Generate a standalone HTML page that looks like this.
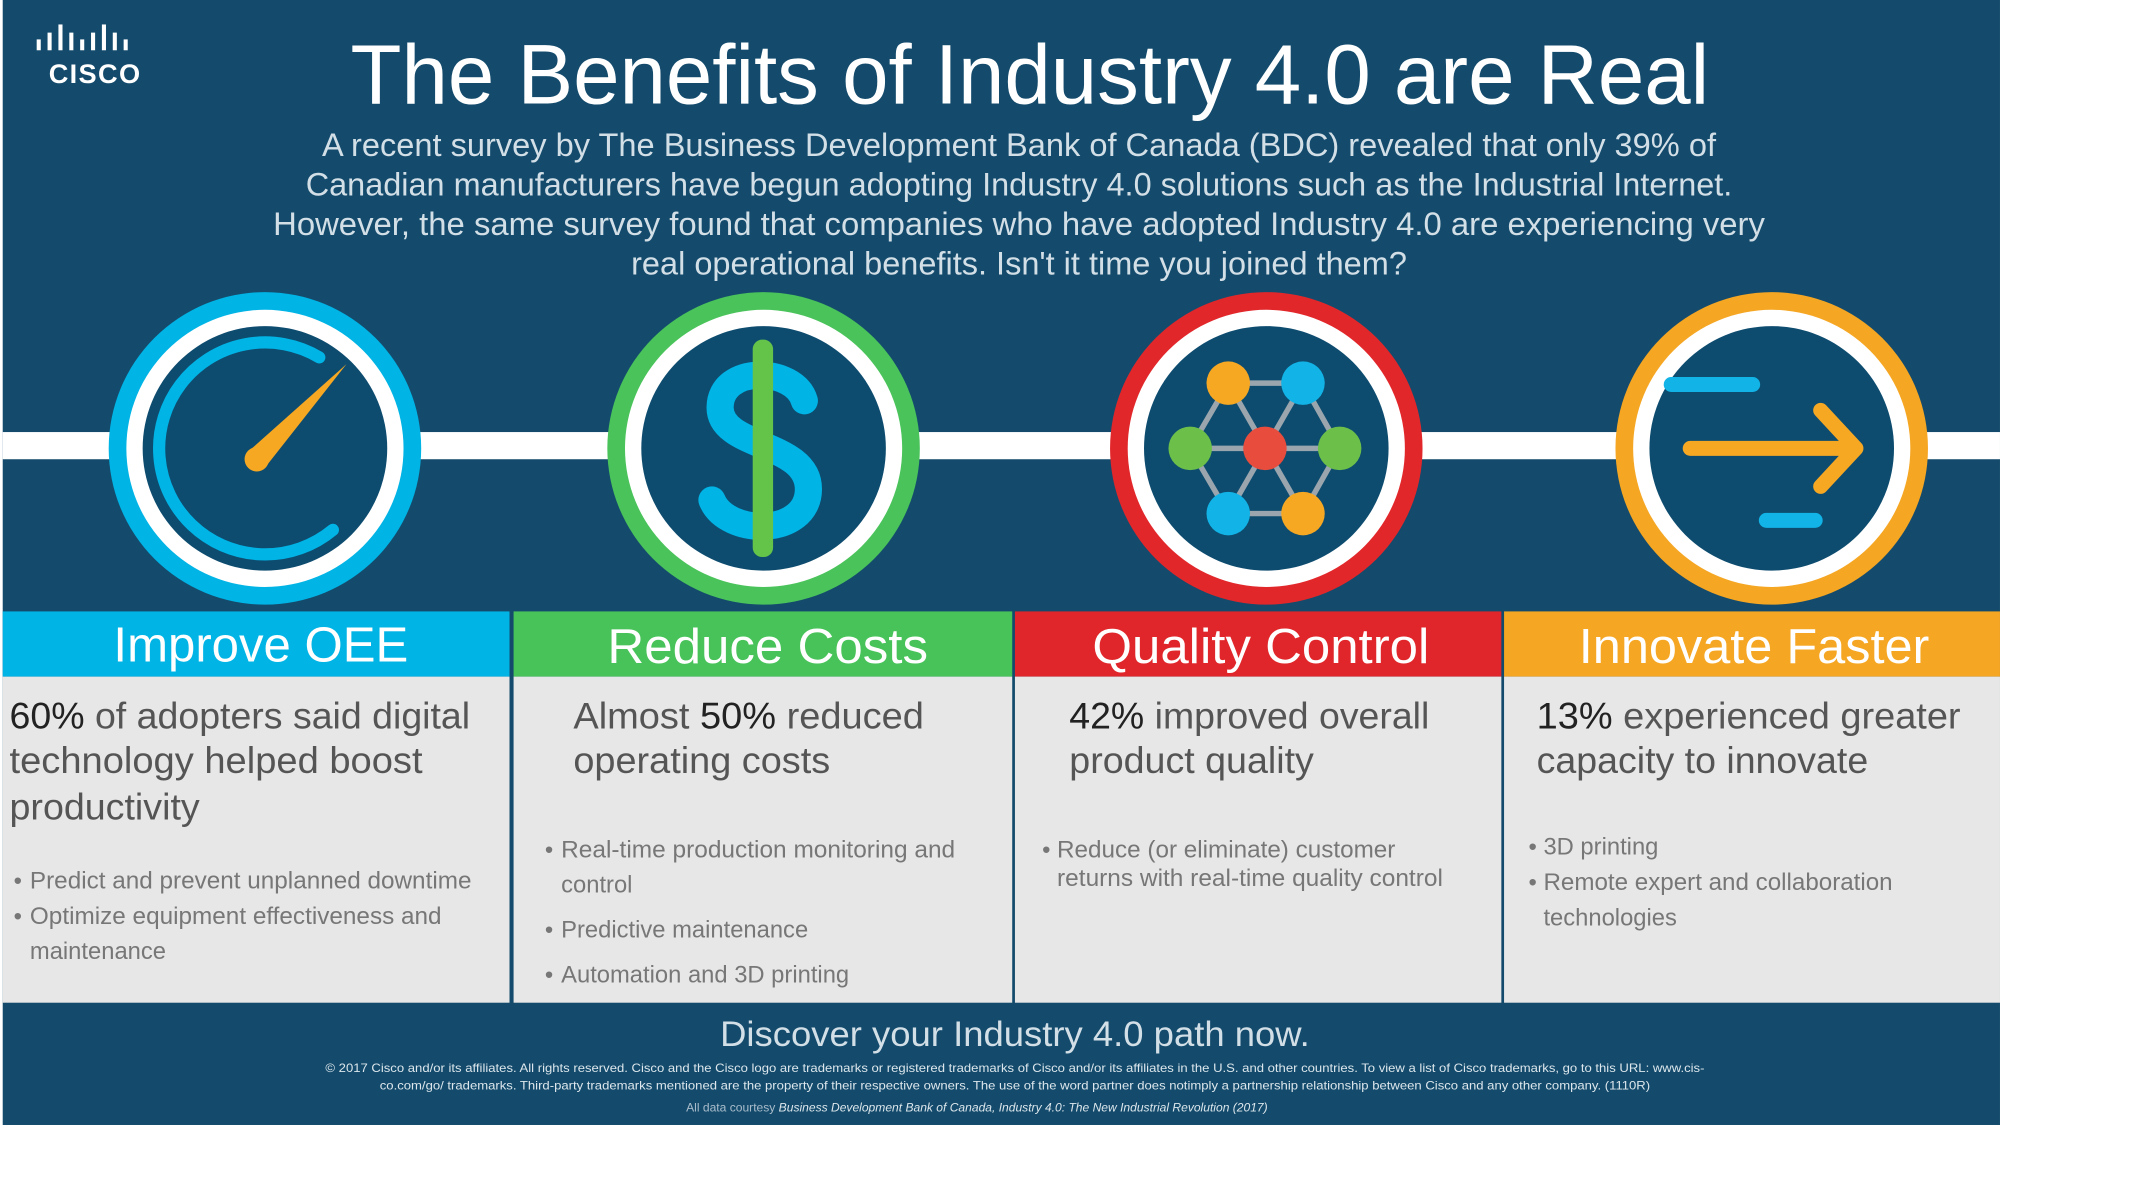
<!DOCTYPE html>
<html><head><meta charset="utf-8"><style>
html,body{margin:0;padding:0;background:#fff;width:2130px;height:1197px;overflow:hidden}
svg{display:block}
text{font-family:"Liberation Sans",sans-serif}
</style></head><body>
<svg width="2130" height="1197" viewBox="0 0 1567 881" preserveAspectRatio="xMinYMin meet">
<rect x="0" y="0" width="1567" height="881" fill="#fff"/>
<rect x="2" y="0" width="1470" height="828" fill="#144b6c"/>
<g fill="#fff">
<rect x="27" y="29" width="3" height="8"/><rect x="35" y="24" width="3" height="13"/><rect x="43" y="18" width="3" height="19"/><rect x="51" y="24" width="3" height="13"/><rect x="59" y="29" width="3" height="8"/><rect x="67" y="24" width="3" height="13"/><rect x="75" y="18" width="3" height="19"/><rect x="83" y="24" width="3" height="13"/><rect x="91" y="29" width="3" height="8"/>
<text x="70" y="61" font-size="20" font-weight="bold" text-anchor="middle" letter-spacing="1">CISCO</text>
</g>
<text x="758" y="76" font-size="62" fill="#fff" text-anchor="middle" textLength="1000" lengthAdjust="spacingAndGlyphs">The Benefits of Industry 4.0 are Real</text>
<g fill="#d3dfe7" font-size="24" text-anchor="middle">
<text x="750" y="115" textLength="1026" lengthAdjust="spacingAndGlyphs">A recent survey by The Business Development Bank of Canada (BDC) revealed that only 39% of</text>
<text x="750" y="144" textLength="1050" lengthAdjust="spacingAndGlyphs">Canadian manufacturers have begun adopting Industry 4.0 solutions such as the Industrial Internet.</text>
<text x="750" y="173" textLength="1098" lengthAdjust="spacingAndGlyphs">However, the same survey found that companies who have adopted Industry 4.0 are experiencing very</text>
<text x="750" y="202" textLength="571" lengthAdjust="spacingAndGlyphs">real operational benefits. Isn't it time you joined them?</text>
</g>
<rect x="2" y="318" width="1470" height="20" fill="#fff"/>
<g>
<circle cx="195" cy="330" r="115" fill="#00b4e6"/><circle cx="195" cy="330" r="102" fill="#fff"/><circle cx="195" cy="330" r="90" fill="#0d4c6f"/>
<path d="M 235 263 A 78 78 0 1 0 245 390" fill="none" stroke="#00b4e6" stroke-width="9" stroke-linecap="round"/>
<path d="M 182 333 L 255 268 L 196 343 Z" fill="#f7a823"/><circle cx="189" cy="338" r="9" fill="#f7a823"/>
</g>
<g>
<circle cx="562" cy="330" r="115" fill="#49c35a"/><circle cx="562" cy="330" r="102" fill="#fff"/><circle cx="562" cy="330" r="90" fill="#0d4c6f"/>
<path d="M 592 295 C 585 270 530 268 530 300 C 530 330 595 325 595 360 C 595 395 535 395 524 368" fill="none" stroke="#00b4e6" stroke-width="20" stroke-linecap="round"/>
<rect x="554" y="250" width="15" height="160" rx="7" fill="#64c449"/>
</g>
<g>
<circle cx="932" cy="330" r="115" fill="#e2272b"/><circle cx="932" cy="330" r="102" fill="#fff"/><circle cx="932" cy="330" r="90" fill="#0d4c6f"/>
<g stroke="#9aa5ad" stroke-width="4" fill="none">
<polygon points="904,282 959,282 986,330 959,378 904,378 876,330"/>
<line x1="876" y1="330" x2="986" y2="330"/><line x1="904" y1="282" x2="959" y2="378"/><line x1="959" y1="282" x2="904" y2="378"/>
</g>
<circle cx="904" cy="282" r="16" fill="#f7a823"/><circle cx="959" cy="282" r="16" fill="#12b3e6"/>
<circle cx="876" cy="330" r="16" fill="#6cc04a"/><circle cx="931" cy="330" r="16" fill="#e84c3d"/><circle cx="986" cy="330" r="16" fill="#6cc04a"/>
<circle cx="904" cy="378" r="16" fill="#12b3e6"/><circle cx="959" cy="378" r="16" fill="#f7a823"/>
</g>
<g>
<circle cx="1304" cy="330" r="115" fill="#f5a623"/><circle cx="1304" cy="330" r="102" fill="#fff"/><circle cx="1304" cy="330" r="90" fill="#0d4c6f"/>
<line x1="1230" y1="283" x2="1290" y2="283" stroke="#12b3e6" stroke-width="11" stroke-linecap="round"/>
<line x1="1300" y1="383" x2="1336" y2="383" stroke="#12b3e6" stroke-width="11" stroke-linecap="round"/>
<line x1="1244" y1="330" x2="1362" y2="330" stroke="#f7a823" stroke-width="11" stroke-linecap="round"/>
<polyline points="1340,302 1366,330 1340,358" fill="none" stroke="#f7a823" stroke-width="11" stroke-linecap="round" stroke-linejoin="round"/>
</g>
<rect x="2" y="450" width="373" height="48" fill="#00b4e6"/>
<rect x="378" y="450" width="367" height="48" fill="#48c35a"/>
<rect x="747" y="450" width="358" height="48" fill="#e0262a"/>
<rect x="1107" y="450" width="365" height="48" fill="#f5a623"/>
<g fill="#fff" font-size="36" text-anchor="middle">
<text x="192" y="487" textLength="217" lengthAdjust="spacingAndGlyphs">Improve OEE</text>
<text x="565" y="488" textLength="236" lengthAdjust="spacingAndGlyphs">Reduce Costs</text>
<text x="928" y="488" textLength="248" lengthAdjust="spacingAndGlyphs">Quality Control</text>
<text x="1291" y="488" textLength="258" lengthAdjust="spacingAndGlyphs">Innovate Faster</text>
</g>
<rect x="2" y="498" width="373" height="240" fill="#e7e7e7"/>
<rect x="378" y="498" width="367" height="240" fill="#e7e7e7"/>
<rect x="747" y="498" width="358" height="240" fill="#e7e7e7"/>
<rect x="1107" y="498" width="365" height="240" fill="#e7e7e7"/>
<g fill="#555" font-size="27">
<text x="7" y="536" textLength="339" lengthAdjust="spacingAndGlyphs"><tspan fill="#222">60%</tspan> of adopters said digital</text>
<text x="7" y="569" textLength="304" lengthAdjust="spacingAndGlyphs">technology helped boost</text>
<text x="7" y="603" textLength="140" lengthAdjust="spacingAndGlyphs">productivity</text>
<text x="422" y="536" textLength="258" lengthAdjust="spacingAndGlyphs">Almost <tspan fill="#222">50%</tspan> reduced</text>
<text x="422" y="569" textLength="189" lengthAdjust="spacingAndGlyphs">operating costs</text>
<text x="787" y="536" textLength="265" lengthAdjust="spacingAndGlyphs"><tspan fill="#222">42%</tspan> improved overall</text>
<text x="787" y="569" textLength="180" lengthAdjust="spacingAndGlyphs">product quality</text>
<text x="1131" y="536" textLength="312" lengthAdjust="spacingAndGlyphs"><tspan fill="#222">13%</tspan> experienced greater</text>
<text x="1131" y="569" textLength="244" lengthAdjust="spacingAndGlyphs">capacity to innovate</text>
</g>
<g fill="#777" font-size="17.5">
<text x="10" y="654">•</text><text x="22" y="654" textLength="325" lengthAdjust="spacingAndGlyphs">Predict and prevent unplanned downtime</text>
<text x="10" y="680">•</text><text x="22" y="680" textLength="303" lengthAdjust="spacingAndGlyphs">Optimize equipment effectiveness and</text>
<text x="22" y="706">maintenance</text>
<text x="401" y="631">•</text><text x="413" y="631" textLength="290" lengthAdjust="spacingAndGlyphs">Real-time production monitoring and</text>
<text x="413" y="657">control</text>
<text x="401" y="690">•</text><text x="413" y="690">Predictive maintenance</text>
<text x="401" y="723">•</text><text x="413" y="723">Automation and 3D printing</text>
<text x="767" y="631">•</text><text x="778" y="631" textLength="249" lengthAdjust="spacingAndGlyphs">Reduce (or eliminate) customer</text>
<text x="778" y="652" textLength="284" lengthAdjust="spacingAndGlyphs">returns with real-time quality control</text>
<text x="1125" y="629">•</text><text x="1136" y="629">3D printing</text>
<text x="1125" y="655">•</text><text x="1136" y="655" textLength="257" lengthAdjust="spacingAndGlyphs">Remote expert and collaboration</text>
<text x="1136" y="681">technologies</text>
</g>
<g>
<text x="747" y="770" font-size="26" fill="#d3dfe7" text-anchor="middle" textLength="434" lengthAdjust="spacingAndGlyphs">Discover your Industry 4.0 path now.</text>
<text x="747" y="789" font-size="9" fill="#dce6ec" text-anchor="middle" textLength="1015" lengthAdjust="spacingAndGlyphs">© 2017 Cisco and/or its affiliates. All rights reserved. Cisco and the Cisco logo are trademarks or registered trademarks of Cisco and/or its affiliates in the U.S. and other countries. To view a list of Cisco trademarks, go to this URL: www.cis-</text>
<text x="747" y="802" font-size="9" fill="#dce6ec" text-anchor="middle" textLength="935" lengthAdjust="spacingAndGlyphs">co.com/go/ trademarks. Third-party trademarks mentioned are the property of their respective owners. The use of the word partner does notimply a partnership relationship between Cisco and any other company. (1110R)</text>
<text x="719" y="818" font-size="8.5" fill="#a9bccb" text-anchor="middle" textLength="428" lengthAdjust="spacingAndGlyphs">All data courtesy <tspan fill="#dce6ec" font-style="italic">Business Development Bank of Canada, Industry 4.0: The New Industrial Revolution (2017)</tspan></text>
</g>
</svg>
</body></html>
